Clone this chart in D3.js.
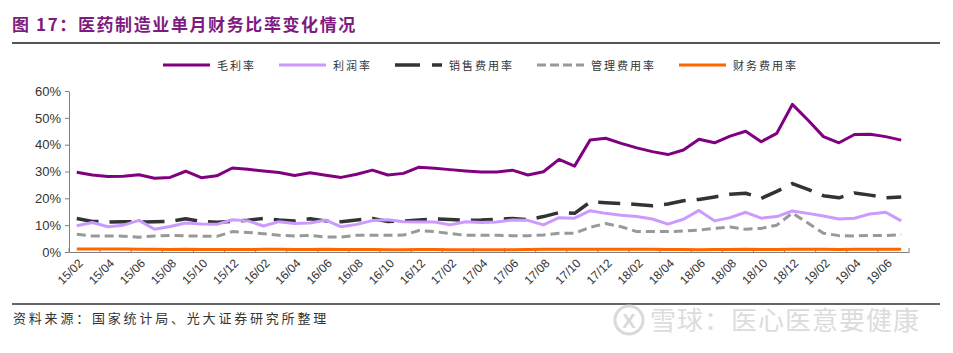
<!DOCTYPE html>
<html lang="zh">
<head>
<meta charset="UTF-8">
<script src="https://d3js.org/d3.v7.min.js"></script>
<title>医药制造业单月财务比率变化情况</title>
<style>
  body { margin: 0; background: #fff; }
  text { font-family: "Liberation Sans", Arial, sans-serif; }
  .cn { font-family: "Noto Sans CJK SC", sans-serif; }
</style>
</head>
<body>
<script>

// months 15/02 .. 19/07
var months = ["15/02","15/03","15/04","15/05","15/06","15/07","15/08","15/09","15/10","15/11","15/12",
  "16/01","16/02","16/03","16/04","16/05","16/06","16/07","16/08","16/09","16/10","16/11","16/12",
  "17/01","17/02","17/03","17/04","17/05","17/06","17/07","17/08","17/09","17/10","17/11","17/12",
  "18/01","18/02","18/03","18/04","18/05","18/06","18/07","18/08","18/09","18/10","18/11","18/12",
  "19/01","19/02","19/03","19/04","19/05","19/06","19/07"];

var yTicks = [0, 10, 20, 30, 40, 50, 60];

// values in %
var grossMargin = [29.7,28.7,28.1,28.2,28.8,27.5,27.8,30.1,27.7,28.4,31.3,
  30.8,30.2,29.6,28.5,29.5,28.6,27.8,29.0,30.5,28.7,29.3,31.6,
  31.2,30.7,30.2,29.8,29.8,30.5,28.7,29.9,34.5,32.0,41.7,42.4,
  40.5,38.8,37.4,36.3,38.0,42.0,40.7,43.2,45.0,41.1,44.2,55.0,
  49.2,43.0,40.7,43.8,43.9,43.0,41.7];

var profitMargin = [9.8,11.0,9.4,10.0,11.8,8.5,9.5,10.8,10.4,10.3,12.0,
  11.6,9.7,11.3,10.6,10.8,11.9,9.4,10.3,11.7,12.0,11.3,11.2,
  11.2,10.1,11.3,11.0,11.2,11.9,11.8,10.1,12.8,12.6,15.4,14.4,
  13.7,13.2,12.3,10.4,12.2,15.5,11.6,12.8,14.8,12.6,13.2,15.3,
  14.4,13.4,12.3,12.6,14.2,14.8,11.6];

var sellingRate = [12.5,11.4,11.2,11.3,11.2,11.3,11.4,12.4,11.4,11.1,11.4,
  11.8,12.5,11.9,11.6,12.4,11.6,11.3,11.9,12.5,11.4,11.5,11.9,
  12.3,12.1,11.8,11.9,12.2,12.5,12.0,13.2,14.7,14.4,18.6,18.4,
  18.1,17.7,17.2,17.9,19.1,19.6,20.5,21.5,21.9,20.0,22.6,25.5,
  23.3,21.0,20.2,22.0,21.2,20.2,20.5];

var adminRate = [6.6,6.0,6.0,5.9,5.5,6.0,6.2,6.0,5.9,5.8,7.6,
  7.3,6.8,6.2,6.0,6.2,5.6,5.6,6.2,6.2,6.2,6.3,8.0,
  7.6,6.9,6.2,6.2,6.2,6.1,6.1,6.3,7.0,7.0,9.2,10.6,
  9.4,7.6,7.6,7.6,7.8,8.2,8.8,9.3,8.5,8.8,10.0,14.5,
  10.8,7.0,6.1,6.0,6.2,6.1,6.5];

var financeRate = [1.1,1.1,1.1,1.1,1.0,1.0,0.9,1.0,0.9,0.9,0.9,
  0.9,1.0,1.0,0.9,0.9,1.0,0.9,0.9,0.9,0.8,0.8,0.9,
  0.9,0.8,0.8,0.8,0.8,0.8,0.9,1.0,1.0,1.0,1.0,1.0,
  1.0,1.0,1.0,0.9,0.9,0.8,0.9,0.9,1.0,0.9,0.9,1.0,
  1.0,1.0,0.9,1.0,1.0,1.0,1.0];

var series = [
  {name: "毛利率", values: grossMargin, color: "#800080", width: 3, dash: null},
  {name: "利润率", values: profitMargin, color: "#cc99ff", width: 3, dash: null},
  {name: "销售费用率", values: sellingRate, color: "#333333", width: 3.5, dash: "22,11"},
  {name: "管理费用率", values: adminRate, color: "#999999", width: 3, dash: "9,5"},
  {name: "财务费用率", values: financeRate, color: "#ff6600", width: 3, dash: null}
];

var svg = d3.select("body").append("svg").attr("width", 953).attr("height", 353);

// title + rules
svg.append("text").attr("class", "cn").attr("x", 12).attr("y", 31)
  .attr("fill", "#7f1a80").style("font-size", "17px").style("font-weight", "bold")
  .style("letter-spacing", "1.6px")
  .text("图 17：医药制造业单月财务比率变化情况");
svg.append("line").attr("x1", 12).attr("x2", 940).attr("y1", 43).attr("y2", 43)
  .attr("stroke", "#555").attr("stroke-width", 2);
svg.append("line").attr("x1", 12).attr("x2", 940).attr("y1", 304).attr("y2", 304)
  .attr("stroke", "#666").attr("stroke-width", 2);

svg.append("text").attr("class", "cn").attr("x", 13).attr("y", 323)
  .attr("fill", "#333").style("font-size", "13px").style("letter-spacing", "2.8px")
  .text("资料来源：国家统计局、光大证券研究所整理");

// watermark
var wm = svg.append("g").attr("opacity", 0.9);
wm.append("circle").attr("cx", 629).attr("cy", 320).attr("r", 14)
  .attr("fill", "none").attr("stroke", "#d6d6d6").attr("stroke-width", 3);
wm.append("text").attr("x", 629).attr("y", 328).attr("text-anchor", "middle")
  .attr("fill", "#d6d6d6").style("font-size", "20px").style("font-weight", "bold").text("X");
wm.append("text").attr("class", "cn").attr("x", 650).attr("y", 330)
  .attr("fill", "#d9d9d9").style("font-size", "26px").style("letter-spacing", "1px")
  .text("雪球：医心医意要健康");

// scales
var x = d3.scaleBand().domain(months).range([69, 909]);
var y = d3.scaleLinear().domain([0, 60]).range([252, 91]);

// y axis
var yAxis = svg.append("g").attr("transform", "translate(69,0)")
  .call(d3.axisLeft(y).tickValues(yTicks).tickSize(4).tickSizeOuter(0).tickFormat(d => d + "%"));
yAxis.select(".domain").attr("stroke", "#808080");
yAxis.selectAll(".tick line").attr("stroke", "#808080");
yAxis.selectAll("text").attr("fill", "#333").style("font-size", "13px").attr("x", -8);

// x axis
var labelled = months.filter((d, i) => i % 2 == 0);
var xAxis = svg.append("g").attr("transform", "translate(0,252)")
  .call(d3.axisBottom(x).tickValues(labelled).tickSize(0).tickSizeOuter(0));
xAxis.select(".domain").attr("stroke", "#808080");
xAxis.selectAll("text").attr("fill", "#333").style("font-size", "12px")
  .attr("text-anchor", "end").attr("x", 0).attr("y", 0).attr("dy", "0.35em")
  .attr("transform", "translate(4,9) rotate(-45)");

var tickPos = labelled.map(d => x(d)).concat([x.range()[1]]);
svg.append("g").selectAll("line").data(tickPos).join("line")
  .attr("x1", d => d).attr("x2", d => d).attr("y1", 252).attr("y2", 248)
  .attr("stroke", "#808080");

// lines
var line = d3.line()
  .x((d, i) => x(months[i]) + x.bandwidth() / 2)
  .y(d => y(d));

svg.append("g").selectAll("path").data(series.slice().reverse()).join("path")
  .attr("d", d => line(d.values))
  .attr("fill", "none")
  .attr("stroke", d => d.color)
  .attr("stroke-width", d => d.width)
  .attr("stroke-dasharray", d => d.dash)
  .attr("stroke-linejoin", "round");

// legend
var lx = 163;
series.forEach(function(s) {
  svg.append("line").attr("x1", lx).attr("x2", lx + 47).attr("y1", 65).attr("y2", 65)
    .attr("stroke", s.color).attr("stroke-width", s.width)
    .attr("stroke-dasharray", s.dash ? (s.dash == "22,11" ? "25,12" : "9,4") : null);
  var t = svg.append("text").attr("class", "cn").attr("x", lx + 54).attr("y", 69.5)
    .attr("fill", "#333").style("font-size", "11px").style("letter-spacing", "2px")
    .text(s.name);
  lx += 54 + t.node().getComputedTextLength() + 23;
});

</script>
</body>
</html>
